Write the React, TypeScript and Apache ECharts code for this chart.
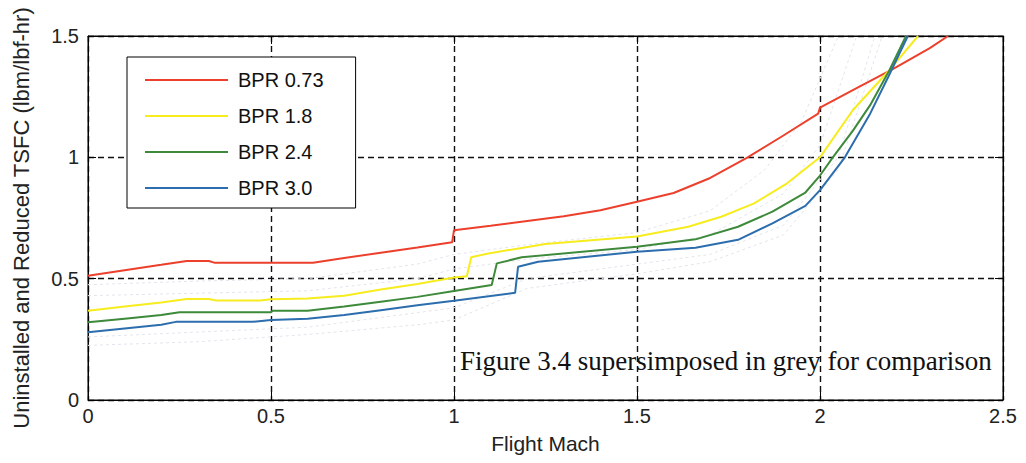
import React, { useEffect, useRef } from "react";
import * as echarts from "echarts";

// Uninstalled and reduced TSFC vs flight Mach, four bypass ratios: [Mach, TSFC]
const bpr073: [number, number][] = [
  [0, 0.512], [0.1, 0.535], [0.2, 0.557], [0.27, 0.573], [0.33, 0.573], [0.345, 0.566],
  [0.615, 0.566], [0.7, 0.585], [0.8, 0.607], [0.9, 0.628], [0.995, 0.65], [1.0, 0.7],
  [1.1, 0.718], [1.2, 0.738], [1.3, 0.757], [1.4, 0.782], [1.5, 0.817], [1.6, 0.853],
  [1.7, 0.915], [1.8, 0.998], [1.9, 1.09], [1.995, 1.18], [2.0, 1.205], [2.1, 1.285],
  [2.2, 1.365], [2.3, 1.45], [2.35, 1.5],
];
const bpr18: [number, number][] = [
  [0, 0.368], [0.1, 0.385], [0.2, 0.402], [0.27, 0.416], [0.33, 0.416], [0.35, 0.41],
  [0.47, 0.41], [0.5, 0.415], [0.6, 0.418], [0.7, 0.43], [0.8, 0.455], [0.9, 0.478],
  [1.0, 0.505], [1.035, 0.51], [1.047, 0.588], [1.09, 0.603], [1.25, 0.643], [1.5, 0.674],
  [1.64, 0.714], [1.73, 0.755], [1.82, 0.81], [1.91, 0.893], [2.0, 1.0], [2.09, 1.195],
  [2.19, 1.36], [2.268, 1.5],
];
const bpr24: [number, number][] = [
  [0, 0.32], [0.1, 0.335], [0.2, 0.35], [0.25, 0.362], [0.5, 0.362], [0.505, 0.368],
  [0.6, 0.368], [0.7, 0.385], [0.8, 0.405], [0.9, 0.425], [1.0, 0.449], [1.103, 0.474],
  [1.117, 0.563], [1.185, 0.588], [1.5, 0.632], [1.66, 0.662], [1.776, 0.714], [1.87, 0.776],
  [1.96, 0.855], [2.0, 0.925], [2.035, 1.0], [2.09, 1.11], [2.137, 1.215], [2.19, 1.36],
  [2.235, 1.5],
];
const bpr30: [number, number][] = [
  [0, 0.279], [0.1, 0.295], [0.2, 0.31], [0.24, 0.322], [0.45, 0.322], [0.5, 0.33],
  [0.6, 0.335], [0.7, 0.35], [0.8, 0.37], [0.9, 0.39], [1.0, 0.409], [1.167, 0.442],
  [1.175, 0.549], [1.23, 0.57], [1.5, 0.611], [1.66, 0.627], [1.776, 0.66], [1.87, 0.728],
  [1.96, 0.8], [2.0, 0.865], [2.068, 1.0], [2.137, 1.18], [2.186, 1.33], [2.24, 1.5],
];

// Earlier figure's curves, overlaid faintly
const refA: [number, number][] = [
  [0, 0.475], [0.3, 0.49], [0.6, 0.5], [0.9, 0.56], [1.0, 0.6], [1.2, 0.64], [1.5, 0.69],
  [1.7, 0.78], [1.85, 0.95], [1.95, 1.15], [2.05, 1.5],
];
const refB: [number, number][] = [
  [0, 0.43], [0.3, 0.44], [0.6, 0.45], [0.9, 0.5], [1.0, 0.54], [1.2, 0.58], [1.5, 0.62],
  [1.7, 0.68], [1.9, 0.85], [2.0, 1.05], [2.1, 1.5],
];
const refC: [number, number][] = [
  [0, 0.26], [0.3, 0.28], [0.6, 0.3], [0.9, 0.36], [1.0, 0.38], [1.2, 0.5], [1.5, 0.56],
  [1.7, 0.6], [1.9, 0.72], [2.05, 1.0], [2.15, 1.5],
];
const refD: [number, number][] = [
  [0, 0.225], [0.3, 0.24], [0.6, 0.27], [0.9, 0.31], [1.0, 0.33], [1.2, 0.46], [1.5, 0.52],
  [1.7, 0.57], [1.9, 0.68], [2.05, 0.95], [2.17, 1.5],
];

const seriesNames = ["BPR 0.73", "BPR 1.8", "BPR 2.4", "BPR 3.0"];
const seriesColors = ["#ec3f2c", "#f6ec1e", "#3d8a3b", "#2c6dae"];
const seriesData = [bpr073, bpr18, bpr24, bpr30];
const refData = [refA, refB, refC, refD];

const xTitle = "Flight Mach";
const yTitle = "Uninstalled and Reduced TSFC (lbm/lbf-hr)";
const note = "Figure 3.4 supersimposed in grey for comparison";

const SANS = "'Liberation Sans', Arial, sans-serif";
const SERIF = "'Liberation Serif', 'Times New Roman', serif";

export default function App() {
  const ref = useRef<HTMLDivElement>(null);

  useEffect(() => {
    if (!ref.current) return;
    const chart = echarts.init(ref.current, undefined, { renderer: "svg" });

    const gridLine = { show: true, lineStyle: { type: [6, 4] as any, color: "#111", width: 1.4 } };
    const tick = { show: true, inside: true, length: 8, lineStyle: { color: "#000", width: 1 } };
    const axisLine = { show: true, onZero: false, lineStyle: { color: "#000", width: 1 } };

    chart.setOption({
      animation: false,
      backgroundColor: "#fff",
      grid: {
        left: 88, top: 36, width: 915, height: 364,
        show: true, borderColor: "#000", borderWidth: 1, backgroundColor: "#fff",
      },
      legend: {
        data: seriesNames,
        orient: "vertical",
        left: 127,
        top: 57,
        icon: "rect",
        itemWidth: 83,
        itemHeight: 2,
        itemGap: 16,
        padding: [13, 32, 10, 18],
        backgroundColor: "#fff",
        borderColor: "#000",
        borderWidth: 1,
        borderRadius: 0,
        textStyle: { fontFamily: SANS, fontSize: 20, color: "#111", lineHeight: 20, padding: [0, 0, 0, 5] },
      },
      xAxis: [
        {
          type: "value", min: 0, max: 2.5, interval: 0.5,
          axisLine, axisTick: tick, splitLine: gridLine,
          axisLabel: { fontFamily: SANS, fontSize: 20, color: "#222", margin: 6 },
          name: xTitle, nameLocation: "middle", nameGap: 33,
          nameTextStyle: { fontFamily: SANS, fontSize: 21, color: "#222" },
        },
        {
          type: "value", position: "top", min: 0, max: 2.5, interval: 0.5,
          axisLine, axisTick: tick, splitLine: { show: false }, axisLabel: { show: false },
        },
      ],
      yAxis: [
        {
          type: "value", min: 0, max: 1.5, interval: 0.5,
          axisLine, axisTick: tick, splitLine: gridLine,
          axisLabel: { fontFamily: SANS, fontSize: 20, color: "#222", margin: 9 },
          name: yTitle, nameLocation: "middle", nameGap: 56, nameRotate: 90,
          nameTextStyle: { fontFamily: SANS, fontSize: 22, color: "#222" },
        },
        {
          type: "value", position: "right", min: 0, max: 1.5, interval: 0.5,
          axisLine, axisTick: tick, splitLine: { show: false }, axisLabel: { show: false },
        },
      ],
      series: [
        ...refData.map((d, i) => ({
          name: "ref" + i,
          type: "line",
          data: d,
          symbol: "none",
          silent: true,
          z: 1,
          lineStyle: { color: "#e4e4ec", width: 1, type: [3, 3] },
        })),
        ...seriesData.map((d, i) => ({
          name: seriesNames[i],
          type: "line",
          data: d,
          symbol: "none",
          z: 3,
          color: seriesColors[i],
          itemStyle: { color: seriesColors[i] },
          lineStyle: { color: seriesColors[i], width: 2 },
        })),
      ],
      graphic: [
        {
          type: "text",
          left: 460,
          top: 347,
          z: 10,
          style: { text: note, font: `27px ${SERIF}`, fill: "#111" },
        },
      ],
    });

    return () => chart.dispose();
  }, []);

  return (
    <div
      ref={ref}
      style={{ position: "absolute", left: 0, top: 0, width: 1026, height: 463, background: "#fff" }}
    />
  );
}
